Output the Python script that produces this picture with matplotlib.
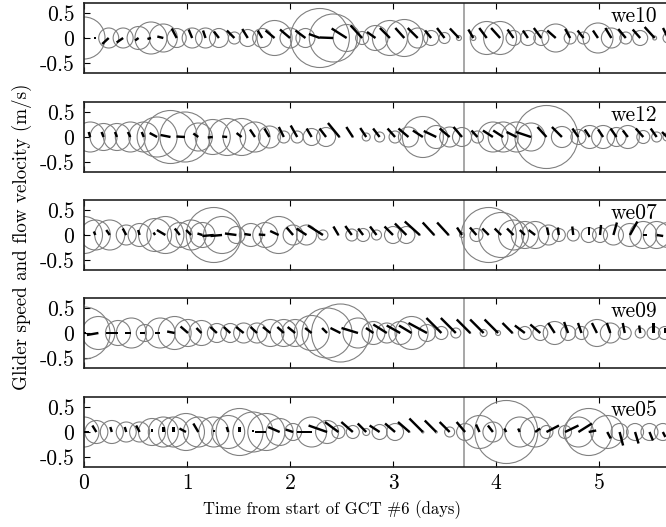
import numpy as np
import matplotlib
matplotlib.use('Agg')
import matplotlib.pyplot as plt
from matplotlib.collections import EllipseCollection

plt.rcParams['font.family'] = ['cmr10', 'DejaVu Serif']
plt.rcParams['axes.unicode_minus'] = False
plt.rcParams['axes.formatter.use_mathtext'] = True

# ---- data (time in days, r = glider speed as circle radius, u/v = flow stick) ----
t_we10 = [0.00, 0.12, 0.24, 0.38, 0.53, 0.65, 0.77, 0.90, 1.05, 1.18, 1.31, 1.46, 1.59, 1.73, 1.85,
          2.00, 2.15, 2.29, 2.42, 2.55, 2.70, 2.83, 2.97, 3.11, 3.24, 3.37, 3.50, 3.64, 3.78, 3.91,
          4.04, 4.17, 4.31, 4.44, 4.58, 4.72, 4.85, 4.99, 5.12, 5.26, 5.40, 5.54, 5.67]
r_we10 = [0.42, 0.00, 0.20, 0.20, 0.23, 0.32, 0.28, 0.19, 0.20, 0.20, 0.19, 0.12, 0.17, 0.19, 0.35,
          0.20, 0.19, 0.59, 0.48, 0.27, 0.13, 0.25, 0.35, 0.37, 0.20, 0.15, 0.11, 0.05, 0.05, 0.33,
          0.33, 0.15, 0.15, 0.15, 0.28, 0.12, 0.12, 0.30, 0.20, 0.12, 0.15, 0.04, 0.10]
u_we10 = [0.03, -0.05, -0.13, -0.13, -0.07, -0.07, -0.12, -0.10, -0.07, -0.05, -0.10, -0.15, -0.11, -0.09, -0.18,
          -0.20, -0.20, -0.22, -0.27, -0.30, -0.23, -0.17, -0.20, -0.18, -0.20, -0.12, -0.15, -0.18, -0.10, -0.15,
          -0.18, -0.12, -0.10, -0.15, -0.17, -0.10, -0.12, -0.10, -0.12, -0.15, -0.15, -0.20, -0.10]
v_we10 = [0.00, 0.00, -0.12, -0.09, -0.05, -0.02, 0.03, 0.19, 0.17, 0.15, 0.13, 0.15, 0.18, 0.15, 0.15,
          0.17, 0.15, 0.08, 0.01, 0.19, 0.25, 0.12, 0.20, 0.20, 0.20, 0.15, 0.20, 0.19, 0.17, 0.20,
          0.20, 0.17, 0.15, 0.20, 0.15, 0.18, 0.15, 0.15, 0.20, 0.18, 0.17, 0.22, 0.20]

t_we12 = [0.06, 0.19, 0.32, 0.45, 0.58, 0.71, 0.84, 0.98, 1.11, 1.25, 1.39, 1.53, 1.66, 1.80, 1.94,
          2.07, 2.21, 2.35, 2.48, 2.61, 2.74, 2.87, 3.02, 3.15, 3.29, 3.42, 3.55, 3.67, 3.82, 3.97,
          4.07, 4.20, 4.34, 4.49, 4.64, 4.80, 4.91, 5.04, 5.17, 5.28, 5.43, 5.56, 5.66]
r_we12 = [0.30, 0.27, 0.27, 0.30, 0.30, 0.40, 0.53, 0.50, 0.28, 0.35, 0.37, 0.37, 0.30, 0.22, 0.12,
          0.12, 0.17, 0.19, 0.01, 0.01, 0.08, 0.10, 0.12, 0.20, 0.41, 0.23, 0.20, 0.19, 0.12, 0.30,
          0.30, 0.30, 0.28, 0.63, 0.21, 0.15, 0.23, 0.23, 0.19, 0.23, 0.13, 0.10, 0.08]
u_we12 = [-0.03, -0.04, -0.04, -0.05, -0.04, -0.15, -0.20, -0.17, -0.10, -0.10, -0.10, -0.10, -0.10, -0.10, -0.10,
          -0.13, -0.10, -0.13, -0.23, -0.13, -0.12, -0.13, -0.15, -0.20, -0.20, -0.25, -0.20, -0.17, -0.12, -0.20,
          -0.20, -0.20, -0.30, -0.18, -0.20, -0.12, -0.10, -0.10, -0.12, -0.10, -0.15, -0.12, -0.10]
v_we12 = [0.10, 0.10, 0.10, 0.10, 0.10, 0.08, 0.04, 0.01, 0.07, -0.01, 0.01, 0.08, 0.15, 0.17, 0.20,
          0.23, 0.17, 0.17, 0.28, 0.20, 0.18, 0.17, 0.17, 0.17, 0.13, 0.12, 0.17, 0.20, 0.13, 0.13,
          0.13, 0.10, 0.10, 0.20, 0.20, 0.17, 0.15, 0.15, 0.17, 0.13, 0.17, 0.17, 0.10]

t_we07 = [0.00, 0.11, 0.25, 0.41, 0.54, 0.69, 0.79, 0.93, 1.04, 1.15, 1.26, 1.34, 1.48, 1.62, 1.76,
          1.89, 2.03, 2.16, 2.32, 2.47, 2.60, 2.71, 2.84, 3.00, 3.13, 3.26, 3.40, 3.54, 3.67, 3.81,
          3.93, 4.05, 4.17, 4.28, 4.38, 4.51, 4.61, 4.75, 4.90, 5.01, 5.14, 5.30, 5.43, 5.56, 5.67]
r_we07 = [0.37, 0.30, 0.30, 0.20, 0.23, 0.33, 0.37, 0.25, 0.30, 0.25, 0.55, 0.37, 0.17, 0.23, 0.25,
          0.37, 0.20, 0.20, 0.10, 0.01, 0.12, 0.13, 0.10, 0.17, 0.17, 0.01, 0.01, 0.01, 0.05, 0.13,
          0.55, 0.45, 0.30, 0.27, 0.27, 0.20, 0.13, 0.12, 0.15, 0.15, 0.20, 0.23, 0.27, 0.27, 0.25]
u_we07 = [-0.02, -0.03, -0.07, -0.07, -0.03, -0.03, -0.17, -0.10, -0.10, -0.10, -0.23, -0.23, -0.23, -0.13, -0.13,
          -0.17, -0.13, -0.20, -0.30, -0.10, -0.13, -0.10, -0.13, -0.17, -0.23, -0.30, -0.23, -0.23, -0.10, -0.13,
          -0.13, -0.13, -0.13, -0.10, -0.13, -0.03, -0.02, -0.02, 0.00, 0.02, 0.07, 0.15, 0.08, 0.13, 0.10]
v_we07 = [0.00, 0.07, 0.10, 0.13, 0.10, 0.05, 0.10, 0.13, 0.10, 0.03, -0.02, -0.02, 0.03, 0.02, 0.01,
          0.08, 0.15, 0.13, 0.19, 0.17, 0.18, 0.13, 0.17, 0.17, 0.23, 0.27, 0.25, 0.25, 0.15, 0.15,
          0.13, 0.13, 0.13, 0.10, 0.10, 0.15, 0.15, 0.17, 0.17, 0.20, 0.25, 0.27, 0.00, -0.02, 0.00]

t_we09 = [0.00, 0.14, 0.33, 0.46, 0.59, 0.74, 0.88, 1.01, 1.14, 1.29, 1.42, 1.55, 1.68, 1.81, 1.94,
          2.05, 2.21, 2.36, 2.49, 2.66, 2.81, 2.94, 3.07, 3.18, 3.33, 3.47, 3.61, 3.75, 3.88, 4.02,
          4.16, 4.28, 4.43, 4.57, 4.70, 4.83, 4.98, 5.11, 5.25, 5.40, 5.53, 5.64]
r_we09 = [0.52, 0.33, 0.25, 0.30, 0.17, 0.30, 0.33, 0.27, 0.25, 0.19, 0.19, 0.20, 0.20, 0.27, 0.27,
          0.27, 0.35, 0.50, 0.58, 0.30, 0.23, 0.20, 0.23, 0.33, 0.17, 0.13, 0.10, 0.01, 0.07, 0.05,
          0.01, 0.13, 0.15, 0.23, 0.15, 0.13, 0.27, 0.20, 0.13, 0.10, 0.13, 0.13]
u_we09 = [0.05, -0.23, -0.23, -0.13, -0.10, -0.10, -0.15, -0.15, -0.10, -0.13, -0.13, -0.15, -0.13, -0.15, -0.13,
          -0.15, -0.13, -0.10, -0.20, -0.33, -0.15, -0.27, -0.27, -0.25, -0.37, -0.30, -0.30, -0.27, -0.27, -0.27,
          -0.20, -0.20, -0.20, -0.13, -0.08, -0.07, -0.10, -0.07, -0.04, -0.02, 0.00, 0.00]
v_we09 = [0.00, -0.04, 0.00, 0.00, 0.00, 0.00, 0.03, 0.13, 0.10, 0.12, 0.12, 0.12, 0.12, 0.12, 0.12,
          0.12, 0.10, 0.10, 0.10, 0.10, 0.10, 0.17, 0.15, 0.15, 0.20, 0.30, 0.30, 0.27, 0.27, 0.27,
          0.20, 0.15, 0.17, 0.20, 0.22, 0.20, 0.20, 0.20, 0.20, 0.15, 0.20, 0.10]

t_we05 = [0.00, 0.12, 0.27, 0.41, 0.54, 0.66, 0.77, 0.87, 0.99, 1.11, 1.26, 1.40, 1.51, 1.64, 1.77,
          1.90, 2.03, 2.21, 2.36, 2.47, 2.61, 2.74, 2.87, 3.02, 3.16, 3.29, 3.42, 3.55, 3.70, 3.84,
          3.97, 4.10, 4.23, 4.38, 4.49, 4.67, 4.80, 4.90, 5.08, 5.20, 5.35, 5.49, 5.62]
r_we05 = [0.30, 0.23, 0.23, 0.20, 0.20, 0.27, 0.30, 0.30, 0.37, 0.30, 0.30, 0.33, 0.47, 0.40, 0.37,
          0.27, 0.17, 0.30, 0.23, 0.13, 0.13, 0.07, 0.15, 0.17, 0.01, 0.02, 0.02, 0.10, 0.17, 0.33,
          0.20, 0.63, 0.30, 0.30, 0.13, 0.13, 0.30, 0.47, 0.33, 0.17, 0.17, 0.17, 0.17]
u_we05 = [0.10, -0.08, -0.03, -0.03, -0.07, 0.00, 0.00, 0.00, -0.13, -0.10, 0.00, -0.03, 0.00, 0.00, -0.23,
          -0.23, -0.15, -0.30, -0.37, -0.27, -0.23, -0.17, -0.20, -0.20, -0.23, -0.27, -0.23, -0.20, -0.17, -0.07,
          -0.10, -0.04, -0.03, 0.10, 0.25, 0.27, 0.27, 0.15, 0.07, 0.07, 0.07, 0.07, 0.05]
v_we05 = [0.00, 0.13, 0.10, 0.10, 0.13, 0.07, 0.10, 0.10, 0.07, 0.17, 0.05, 0.10, 0.10, 0.05, 0.00,
          0.10, 0.05, 0.00, 0.13, 0.20, 0.20, 0.17, 0.13, 0.17, 0.20, 0.27, 0.23, 0.20, 0.20, 0.15,
          0.13, 0.07, 0.07, 0.07, 0.13, 0.13, 0.17, 0.03, -0.13, -0.27, -0.23, -0.17, -0.10]

gliders = ['we10', 'we12', 'we07', 'we09', 'we05']
panel_data = {
    'we10': (t_we10, r_we10, u_we10, v_we10),
    'we12': (t_we12, r_we12, u_we12, v_we12),
    'we07': (t_we07, r_we07, u_we07, v_we07),
    'we09': (t_we09, r_we09, u_we09, v_we09),
    'we05': (t_we05, r_we05, u_we05, v_we05),
}
t_event = 3.69  # vertical marker

# ---- layout (pixel-matched to 666x527) ----
W, H = 666, 527
fig = plt.figure(figsize=(W / 100, H / 100), dpi=100)
tops = [3, 102, 200, 298, 397]
ax_h = 70
left_px, right_px = 84, 670

for i, name in enumerate(gliders):
    t, r, u, v = [np.array(a, dtype=float) for a in panel_data[name]]
    ax = fig.add_axes([left_px / W, 1 - (tops[i] + ax_h) / H, (right_px - left_px) / W, ax_h / H])
    ax.set_xlim(0, (right_px - left_px) / 103.0)
    ax.set_ylim(-0.7, 0.7)

    circles = EllipseCollection(2 * r, 2 * r, np.zeros_like(r), units='y',
                                offsets=np.column_stack([t, np.zeros_like(t)]),
                                offset_transform=ax.transData,
                                facecolors='none', edgecolors='#808080', linewidths=0.8, zorder=2)
    ax.add_collection(circles)

    ax.quiver(t, np.zeros_like(t), u, v, angles='uv', scale_units='y', scale=1,
              units='dots', width=2.4, headwidth=1, headlength=0, headaxislength=0,
              pivot='tail', color='black', zorder=3)

    ax.axvline(t_event, color='#a0a0a0', lw=1.3, zorder=1)

    ax.set_yticks([-0.5, 0, 0.5])
    ax.set_yticklabels(['-0.5', '0', '0.5'])
    ax.set_xticks([0, 1, 2, 3, 4, 5])
    if i == len(gliders) - 1:
        ax.set_xticklabels(['0', '1', '2', '3', '4', '5'])
    else:
        ax.set_xticklabels([])
    ax.tick_params(direction='in', length=4, width=0.8, top=True, right=False, labelsize=15.5)
    ax.tick_params(axis='y', pad=7)
    ax.tick_params(axis='x', pad=5)
    for s in ax.spines.values():
        s.set_linewidth(1.2)
        s.set_color('#222222')

    ax.text(0.979, 0.95, name, transform=ax.transAxes, ha='right', va='top', fontsize=15.5, zorder=5)

fig.text(22 / W, 1 - 237 / H, 'Glider speed and flow velocity (m/s)', rotation=90,
         ha='center', va='center', fontsize=13.7)
fig.text(332 / W, 1 - 510 / H, 'Time from start of GCT #6 (days)', ha='center', va='center', fontsize=12)

fig.savefig('out.png', dpi=100)
